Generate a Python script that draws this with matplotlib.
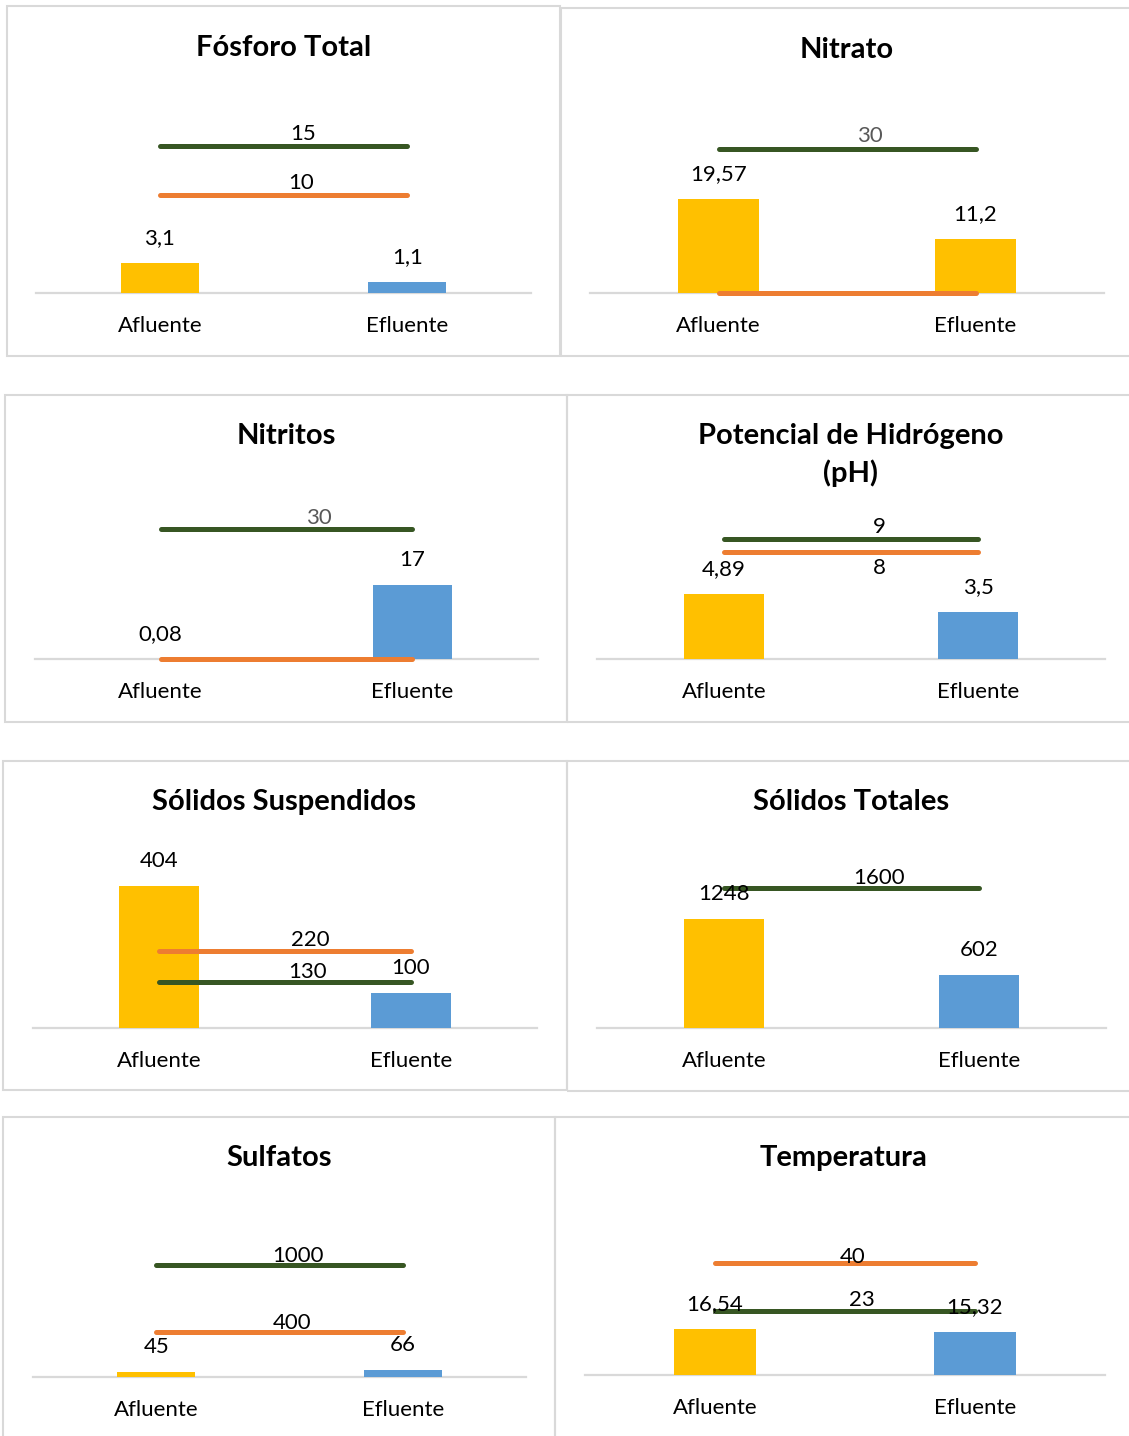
import matplotlib
matplotlib.use("Agg")
import matplotlib.pyplot as plt
from matplotlib.patches import Rectangle

plt.rcParams['font.family'] = ['Lato', 'DejaVu Sans']

# datos
titulos = ["Fósforo Total", "Nitrato", "Nitritos", "Potencial de Hidrógeno\n(pH)",
           "Sólidos Suspendidos", "Sólidos Totales", "Sulfatos", "Temperatura"]
categorias = ["Afluente", "Efluente"]
afluente = [3.1, 19.57, 0.08, 4.89, 404, 1248, 45, 16.54]
efluente = [1.1, 11.2, 17, 3.5, 100, 602, 66, 15.32]
limite_verde = [15, 30, 30, 9, 130, 1600, 1000, 23]
limite_naranja = [10, 0, 0, 8, 220, None, 400, 40]

# estilo / posiciones (pixeles de la imagen)
W, H = 1129, 1436
AMARILLO, AZUL = '#FFC000', '#5B9BD5'
VERDE, NARANJA = '#375623', '#ED7D31'
GRIS = '#D9D9D9'
color_efluente = [AZUL, AMARILLO, AZUL, AZUL, AZUL, AZUL, AZUL, AZUL]
ejes_x = [(36, 531), (590, 1104), (35, 538), (597, 1105),
          (33, 537), (597, 1106), (33, 526), (585, 1105)]
base_y = [293, 293, 659, 659, 1028, 1028, 1377, 1375]
escala = [9.8, 4.8, 4.33, 13.33, 0.352, 0.0876, 0.112, 2.79]  # px por unidad
titulo_pos = [(284, 48), (847, 50), (286, 436), (851, 455),
              (284, 802), (851, 802), (279, 1158), (844, 1158)]
etiq_verde_x = [0.58, 0.59, 0.63, 0.61, 0.59, 0.61, 0.575, 0.565]
etiq_verde_dy = [12, 13, 11, 12, 10, 10, 9, 11]
etiq_naranja_x = [0.57, 0, 0, 0.61, 0.6, 0, 0.55, 0.53]
etiq_naranja_dy = [12, 0, 0, -16, 11, 0, 9, 6]
color_etiq_verde = ['black', '#595959', '#595959', 'black', 'black', 'black', 'black', 'black']
marcos = [(7, 6, 560, 356), (561, 8, 1135, 356), (5, 395, 567, 722), (567, 395, 1135, 722),
          (3, 761, 567, 1090), (567, 761, 1135, 1091), (3, 1117, 555, 1445), (555, 1117, 1135, 1445)]

fig = plt.figure(figsize=(W / 100, H / 100), dpi=100)
px = 72 / 100  # puntos por pixel
FS = 16


def fmt(v):
    return f"{v:g}".replace('.', ',')


for (l, t, r, b) in marcos:
    fig.add_artist(Rectangle((l / W, 1 - b / H), (r - l) / W, (b - t) / H,
                             transform=fig.transFigure, fill=False,
                             edgecolor=GRIS, linewidth=1.5))

for i in range(8):
    x0, x1 = ejes_x[i]
    alto = 240
    ax = fig.add_axes([x0 / W, 1 - base_y[i] / H, (x1 - x0) / W, alto / H])
    ax.set_xlim(-0.5, 1.5)
    ax.set_ylim(0, alto / escala[i])
    ax.axis('off')
    ax.axhline(0, color=GRIS, lw=1.6, clip_on=False, zorder=1)
    vals = [afluente[i], efluente[i]]
    ax.bar([0, 1], vals, width=0.315, color=[AMARILLO, color_efluente[i]], zorder=2)
    for j, v in enumerate(vals):
        ax.annotate(fmt(v), (j, v), xytext=(0, 25 * px), textcoords='offset points',
                    ha='center', va='center', fontsize=FS, zorder=5)
        ax.annotate(categorias[j], (j, 0), xytext=(0, -33 * px), textcoords='offset points',
                    ha='center', va='center', fontsize=FS)
    ax.plot([0, 1], [limite_verde[i]] * 2, color=VERDE, lw=3.6,
            solid_capstyle='round', clip_on=False, zorder=3)
    ax.annotate(fmt(limite_verde[i]), (etiq_verde_x[i], limite_verde[i]),
                xytext=(0, etiq_verde_dy[i] * px), textcoords='offset points',
                ha='center', va='center', fontsize=FS, color=color_etiq_verde[i], zorder=5)
    if limite_naranja[i] is not None:
        ax.plot([0, 1], [limite_naranja[i]] * 2, color=NARANJA, lw=3.6,
                solid_capstyle='round', clip_on=False, zorder=3)
        if limite_naranja[i] > 0:
            ax.annotate(fmt(limite_naranja[i]), (etiq_naranja_x[i], limite_naranja[i]),
                        xytext=(0, etiq_naranja_dy[i] * px), textcoords='offset points',
                        ha='center', va='center', fontsize=FS, zorder=5)
    tx, ty = titulo_pos[i]
    fig.text(tx / W, 1 - ty / H, titulos[i], ha='center', va='center',
             fontsize=21, fontweight='bold', linespacing=1.45)

fig.savefig('out.png', dpi=100, facecolor='white')
